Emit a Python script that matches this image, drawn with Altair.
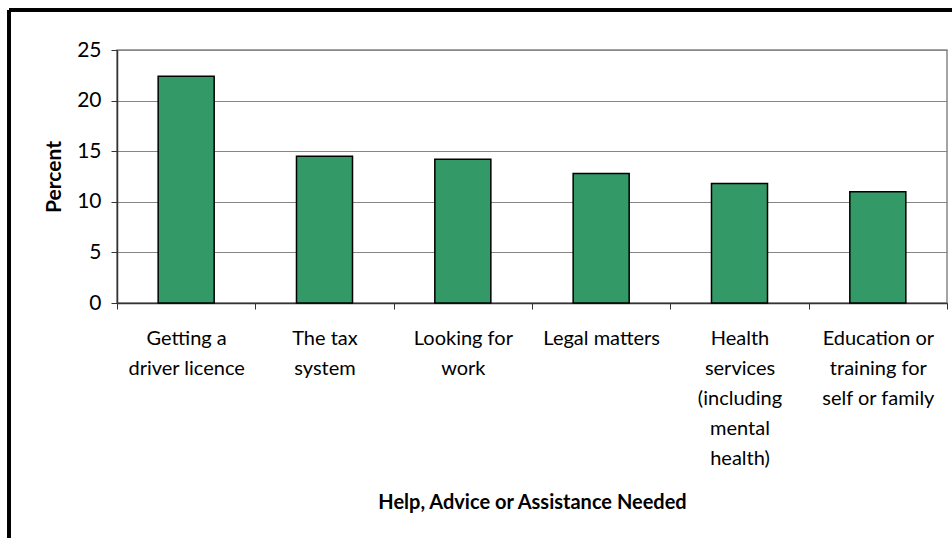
import altair as alt
import pandas as pd

categories = [
    "Getting a\ndriver licence",
    "The tax\nsystem",
    "Looking for\nwork",
    "Legal matters",
    "Health\nservices\n(including\nmental\nhealth)",
    "Education or\ntraining for\nself or family",
]
percent = [22.4, 14.5, 14.2, 12.8, 11.8, 11.0]
y_ticks = [0, 5, 10, 15, 20, 25]

df = pd.DataFrame({"cat": categories, "pct": percent})

FONT = "Lato"

bars = alt.Chart(df).mark_bar(
    color="#339966", stroke="#000000", strokeWidth=1.5,
    width=alt.RelativeBandSize(0.405)
).encode(
    x=alt.X("cat:N", sort=categories,
            scale=alt.Scale(paddingInner=0, paddingOuter=0),
            axis=alt.Axis(title="Help, Advice or Assistance Needed",
                          labelAngle=0, labelExpr="split(datum.label, '\\n')",
                          labelLineHeight=30, labelFontSize=20, labelFont=FONT,
                          labelColor="#000000", labelPadding=19,
                          tickBand="extent", tickSize=6, tickColor="#333333",
                          domainColor="#333333", domainWidth=1.5,
                          titleFont=FONT, titleFontSize=20, titleFontWeight="bold",
                          titleColor="#000000", titlePadding=24, grid=False,
                          labelLimit=200)),
    y=alt.Y("pct:Q", scale=alt.Scale(domain=[0, 25], nice=False),
            axis=alt.Axis(title="Percent", values=y_ticks,
                          labelFontSize=21, labelFont=FONT, labelColor="#000000",
                          labelPadding=10, tickSize=6, tickColor="#333333",
                          domainColor="#333333", domainWidth=1.5,
                          gridColor="#868686", gridWidth=1.2,
                          titleFont=FONT, titleFontSize=21, titleFontWeight="bold",
                          titleColor="#000000", titlePadding=12)),
)

border = alt.Chart(df).mark_rule(color="#000000", strokeWidth=3).encode(
    x=alt.value(-108), x2=alt.value(900), y=alt.value(-40)
) + alt.Chart(df).mark_rule(color="#000000", strokeWidth=3).encode(
    x=alt.value(-108), y=alt.value(-40), y2=alt.value(600)
)

chart = (bars + border).properties(
    width=830, height=253,
    autosize=alt.AutoSizeParams(type="none"),
    padding={"left": 117, "top": 50, "right": 5, "bottom": 235},
    background="#ffffff",
).configure_view(stroke="#868686", strokeWidth=1.5)

chart.save("out.html", embed_options={"renderer": "svg", "actions": False})
